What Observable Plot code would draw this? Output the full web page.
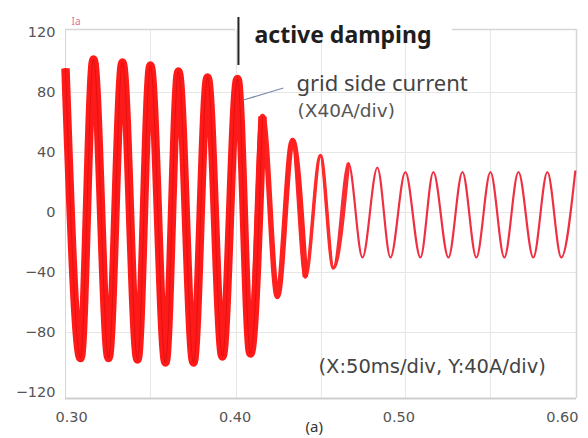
<!DOCTYPE html>
<html><head><meta charset="utf-8">
<script src="https://cdn.jsdelivr.net/npm/d3@7"></script>
<script src="https://cdn.jsdelivr.net/npm/@observablehq/plot@0.6"></script>
<style>
body{margin:0;background:#fff}
#chart{width:588px;height:438px}
</style>
</head><body><div id="chart"></div>
<script>
// Time (s) of each local extreme of the grid side current
const extremeTimes = [
  0.2963, 0.3055, 0.3134, 0.3226, 0.3311, 0.3403, 0.3482, 0.3574, 0.3653, 0.3745,
  0.3831, 0.3922, 0.4014, 0.4093, 0.4167, 0.4258, 0.4350, 0.4429, 0.4521, 0.4600,
  0.4692, 0.4778, 0.4869, 0.4949, 0.5040, 0.5132, 0.5211, 0.5303, 0.5389, 0.5474,
  0.5560, 0.5645, 0.5731, 0.5822, 0.5908, 0.5993, 0.6079
];
// Current (A) at each extreme
const extremeValues = [
  96, -97, 102, -97, 100, -98, 98, -100, 94, -100,
  90, -96, 89, -94, 64, -56, 48, -43, 38, -37,
  33, -30, 30, -30, 27, -30, 27, -30, 27, -30,
  27, -30, 27, -30, 27, -30, 28
];
const heavyUntil = 0.4167;   // end of the strongly rippled section
const mediumUntil = 0.4429;  // end of the moderately rippled section
const lightUntil = 0.4692;   // end of the lightly rippled section

const xTickValues = [0.30, 0.40, 0.50, 0.60];
const yTickValues = [120, 80, 40, 0, -40, -80, -120];
const xGridValues = [0.3482, 0.4008, 0.4527, 0.5040, 0.5560];
const yGridValues = [80, 40, 0, -40, -80];
const xDomain = [0.2963, 0.6086];
const yDomain = [-124, 122];
const dampingStart = 0.4020;

const signalLabel = "Ia";
const eventLabel = "active damping";
const seriesLabel = "grid side current";
const seriesScale = "(X40A/div)";
const scaleNote = "(X:50ms/div, Y:40A/div)";
const panelLabel = "(a)";

const data = extremeTimes.map((t, i) => ({t, v: extremeValues[i]}));
const heavy = data.filter(d => d.t <= heavyUntil);
const medium = data.filter(d => d.t <= mediumUntil);
const light = data.filter(d => d.t <= lightUntil);

const font = "'Noto Sans', 'Open Sans', sans-serif";
const wide = "'DejaVu Sans', sans-serif";
const txt = (s, o) => Plot.text([s], {text: d => d, frameAnchor: "top-left", textAnchor: "start", fontFamily: font, ...o});
const line = (d, o) => Plot.line(d, {x: "t", y: "v", curve: "monotone-x", strokeLinecap: "butt", ...o});

const chart = Plot.plot({
  width: 588, height: 438,
  marginLeft: 65, marginRight: 12, marginTop: 29, marginBottom: 40,
  style: {fontFamily: wide, fontSize: "14.5px", background: "#fff", color: "#555"},
  x: {domain: xDomain, ticks: xTickValues, tickFormat: d3.format(".2f"), tickSize: 0, tickPadding: 13, label: null},
  y: {domain: yDomain, ticks: yTickValues, tickSize: 0, tickPadding: 10, label: null},
  marks: [
    Plot.ruleX(xGridValues, {stroke: "#e6e6e6"}),
    Plot.ruleY(yGridValues, {stroke: "#e6e6e6"}),
    Plot.ruleX([xDomain[0]], {stroke: "#d6d6d6"}),
    Plot.ruleX([xDomain[1]], {stroke: "#d6d6d6", strokeWidth: 1.5}),
    Plot.ruleY([yDomain[0]], {stroke: "#cfcfcf", strokeWidth: 2}),
    Plot.ruleY([yDomain[1]], {x1: xDomain[0], x2: 0.4002, stroke: "#d6d6d6", strokeWidth: 1.5}),
    Plot.ruleY([yDomain[1]], {x1: 0.5328, x2: xDomain[1], stroke: "#d6d6d6", strokeWidth: 1.5}),
    line(data, {stroke: "#ee3042", strokeWidth: 2.2}),
    line(light, {stroke: "#ff2a2a", strokeWidth: 3.5}),
    line(medium, {stroke: "#ff2020", strokeWidth: 5.5}),
    line(heavy, {stroke: "#ff1a1a", strokeWidth: 8.5}),
    line(heavy, {stroke: "#c00000", strokeWidth: 1, strokeOpacity: 0.4}),
    Plot.ruleX([dampingStart], {y1: 98, y2: 130, stroke: "#222", strokeWidth: 2}),
    Plot.link([0], {x1: 0.4051, y1: 75, x2: 0.4295, y2: 83, stroke: "#7d8cab", strokeWidth: 1.2}),
    txt(signalLabel, {dx: 6, dy: -12, fontSize: 10, fill: "#e0709a"}),
    txt(eventLabel, {dx: 189, dy: -3, fontSize: 23, fontWeight: "bold", fill: "#1e1e1e"}),
    txt(seriesLabel, {dx: 231, dy: 46, fontSize: 22, fill: "#444"}),
    txt(seriesScale, {dx: 232, dy: 74, fontSize: 18.5, fill: "#555", fontFamily: wide}),
    txt(scaleNote, {dx: 253, dy: 330, fontSize: 19.5, fill: "#444", fontFamily: wide}),
    txt(panelLabel, {dx: 240, dy: 392, fontSize: 15, fill: "#333"})
  ]
});
document.getElementById("chart").appendChild(chart);
</script>
</body></html>
